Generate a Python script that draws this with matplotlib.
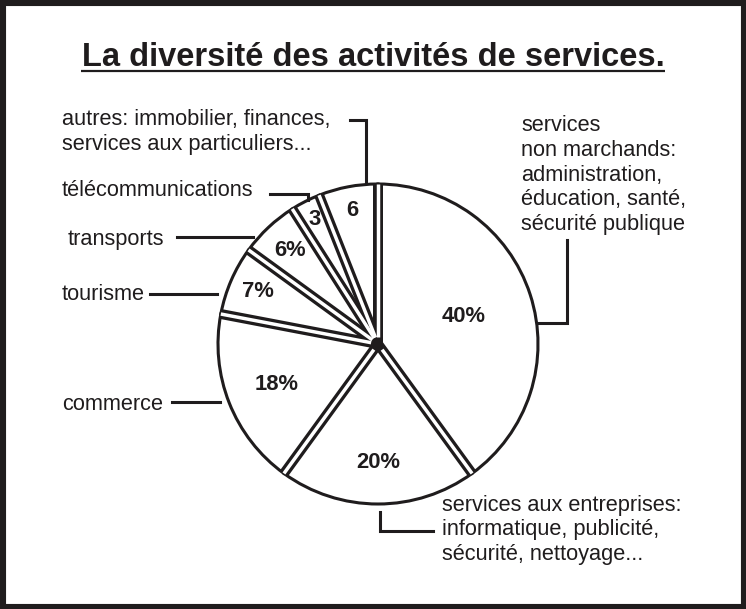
import numpy as np
import matplotlib.pyplot as plt
from matplotlib.patches import Rectangle

# canvas in pixels (y measured from the top, like the original picture)
W, H = 746, 609
INK = '#1f1c1d'

title = "La diversité des activités de services."

categories = ["services non marchands", "services aux entreprises", "commerce",
              "tourisme", "transports", "télécommunications", "autres"]
values = [40, 20, 18, 7, 6, 3, 6]
slice_labels = ["40%", "20%", "18%", "7%", "6%", "3", "6"]

outer_labels = [
    "services\nnon marchands:\nadministration,\néducation, santé,\nsécurité publique",
    "services aux entreprises:\ninformatique, publicité,\nsécurité, nettoyage...",
    "commerce",
    "tourisme",
    "transports",
    "télécommunications",
    "autres: immobilier, finances,\nservices aux particuliers...",
]

# layout (pixels, y from top)
center_px = (378, 344)
radius_px = 160
label_dist = [0.56, 0.74, 0.68, 0.82, 0.80, 0.87, 0.85]
label_pos = [(521, 175), (442, 530), (62, 404), (62, 295), (68, 239), (62, 191), (62, 132)]
leaders = [
    [(567, 240), (567, 323), (538, 323)],
    [(380, 512), (380, 531), (433, 531)],
    [(172, 402), (220, 402)],
    [(150, 294), (217, 294)],
    [(177, 237), (253, 237)],
    [(270, 194), (308, 194), (308, 200)],
    [(350, 120), (366, 120), (366, 183)],
]


def Y(y):
    return H - y


def main():
    plt.rcParams['font.family'] = ['Liberation Sans', 'DejaVu Sans']
    fig = plt.figure(figsize=(W / 100, H / 100), dpi=100)
    ax = fig.add_axes([0, 0, 1, 1])

    cx, cy = center_px[0], Y(center_px[1])
    wedges, _ = ax.pie(values, startangle=90, counterclock=False,
                       center=(cx, cy), radius=radius_px,
                       wedgeprops=dict(facecolor='white', edgecolor=INK,
                                       linewidth=2.2, zorder=1))

    # double separating lines between slices
    for w in wedges:
        a = np.radians(w.theta1)
        x1, y1 = cx + radius_px * np.cos(a), cy + radius_px * np.sin(a)
        ax.plot([cx, x1], [cy, y1], color=INK, lw=7.2,
                solid_capstyle='butt', zorder=2)
    for w in wedges:
        a = np.radians(w.theta1)
        x0, y0 = cx + 7 * np.cos(a), cy + 7 * np.sin(a)
        x1, y1 = cx + radius_px * np.cos(a), cy + radius_px * np.sin(a)
        ax.plot([x0, x1], [y0, y1], color='white', lw=2.5,
                solid_capstyle='butt', zorder=3)

    # values inside the slices
    for w, lab, d in zip(wedges, slice_labels, label_dist):
        a = np.radians((w.theta1 + w.theta2) / 2)
        ax.text(cx + d * radius_px * np.cos(a), cy + d * radius_px * np.sin(a),
                lab, ha='center', va='center', fontsize=15.8,
                fontweight='bold', color=INK, zorder=4)

    # category names and leader lines
    for txt, (x, y), pts in zip(outer_labels, label_pos, leaders):
        ax.text(x, Y(y), txt, ha='left', va='center', fontsize=15.7,
                color=INK, linespacing=1.22)
        xs, ys = zip(*pts)
        ax.plot(xs, [Y(v) for v in ys], color=INK, lw=2.2,
                solid_joinstyle='miter', zorder=2)

    t = ax.text(373, Y(66), title, ha='center', va='baseline',
                fontsize=23.5, fontweight='bold', color=INK)

    ax.add_patch(Rectangle((0, 0), W, H, fill=False, lw=8, edgecolor=INK,
                           zorder=10))
    ax.set_xlim(0, W)
    ax.set_ylim(0, H)
    ax.set_aspect('equal')
    ax.axis('off')

    # underline the title
    fig.canvas.draw()
    bb = t.get_window_extent()
    ax.plot([bb.x0 - 1, bb.x1 + 1], [Y(71), Y(71)], color=INK, lw=1.6,
            solid_capstyle='butt')

    fig.savefig('out.png', dpi=100)


if __name__ == "__main__":
    main()
